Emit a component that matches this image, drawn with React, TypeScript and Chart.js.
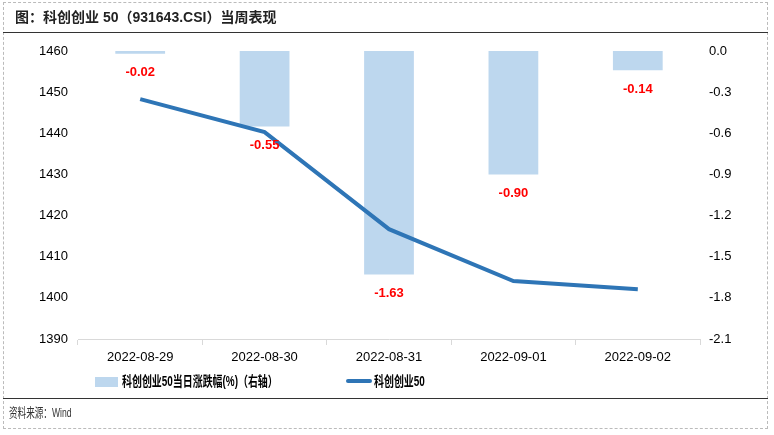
import React, { useEffect, useRef } from "react";
import { Chart, registerables } from "chart.js";

Chart.register(...registerables);

const categories = ["2022-08-29", "2022-08-30", "2022-08-31", "2022-09-01", "2022-09-02"];
const changePct = [-0.02, -0.55, -1.63, -0.9, -0.14];
const indexLevel = [1448.3, 1440.3, 1416.7, 1404.1, 1402.1];
const leftTicks = [1390, 1400, 1410, 1420, 1430, 1440, 1450, 1460];
const rightTicks = [-2.1, -1.8, -1.5, -1.2, -0.9, -0.6, -0.3, 0.0];

const FONT = '"Liberation Sans", Arial, "Noto Sans CJK SC", sans-serif';
const BAR_COLOR = "#BDD7EE";
const LINE_COLOR = "#2E75B6";

const barLabels = {
  id: "barLabels",
  afterDatasetsDraw(chart: any) {
    const meta = chart.getDatasetMeta(0);
    const ctx = chart.ctx;
    ctx.save();
    ctx.font = `bold 13px ${FONT}`;
    ctx.fillStyle = "#FF0000";
    ctx.textAlign = "center";
    ctx.textBaseline = "middle";
    meta.data.forEach((el: any, i: number) => {
      ctx.fillText(changePct[i].toFixed(2), el.x, el.y + 19);
    });
    ctx.restore();
  },
};

export default function App() {
  const ref = useRef<HTMLCanvasElement>(null);
  useEffect(() => {
    if (!ref.current) return;
    const chart = new Chart(ref.current, {
      type: "bar",
      data: {
        labels: categories,
        datasets: [
          {
            type: "bar",
            label: "科创创业50当日涨跌幅(%)（右轴）",
            data: changePct,
            backgroundColor: BAR_COLOR,
            yAxisID: "y1",
            barPercentage: 0.8,
            categoryPercentage: 0.5,
            order: 1,
          },
          {
            type: "line",
            label: "科创创业50",
            data: indexLevel,
            borderColor: LINE_COLOR,
            borderWidth: 4,
            pointRadius: 0,
            tension: 0,
            yAxisID: "y",
            order: 0,
          } as any,
        ],
      },
      options: {
        responsive: false,
        animation: false,
        layout: { padding: { top: 51, left: 0, right: 0, bottom: 0 } },
        plugins: { legend: { display: false }, tooltip: { enabled: false } },
        scales: {
          x: {
            offset: true,
            grid: { display: true, drawOnChartArea: false, offset: true, tickLength: 6, color: "#D9D9D9" },
            border: { display: true, color: "#D9D9D9" },
            ticks: { font: { family: FONT, size: 13 }, color: "#000", padding: 5, maxRotation: 0 },
            afterFit: (s: any) => { s.height = 96; },
          },
          y: {
            position: "left",
            min: 1390,
            max: 1460,
            grid: { display: false },
            border: { display: false },
            ticks: {
              font: { family: FONT, size: 13 },
              color: "#000",
              padding: 2,
              callback: (v: any) => String(v),
            },
            afterBuildTicks: (s: any) => { s.ticks = leftTicks.map((v) => ({ value: v })); },
            afterFit: (s: any) => { s.width = 78; },
          },
          y1: {
            position: "right",
            min: -2.1,
            max: 0,
            grid: { display: false },
            border: { display: false },
            ticks: {
              font: { family: FONT, size: 13 },
              color: "#000",
              padding: 1,
              callback: (v: any) => Number(v).toFixed(1),
            },
            afterBuildTicks: (s: any) => { s.ticks = rightTicks.map((v) => ({ value: v })); },
            afterFit: (s: any) => { s.width = 74; },
          },
        },
      },
      plugins: [barLabels],
    });
    return () => chart.destroy();
  }, []);

  const squeeze = { transform: "scaleX(0.71)", transformOrigin: "left center" } as const;
  const squeezeFoot = { transform: "scaleX(0.66)", transformOrigin: "left center" } as const;

  return (
    <div style={{ position: "absolute", left: 0, top: 0, width: 774, height: 435, background: "#fff", fontFamily: FONT }}>
      <canvas ref={ref} width={774} height={435} style={{ position: "absolute", left: 0, top: 0, width: 774, height: 435 }} />
      <div style={{ position: "absolute", left: 3, top: 2, width: 763, height: 425, border: "1px dashed #BBBBBB" }} />
      <div style={{ position: "absolute", left: 15, top: 8, fontSize: 14, fontWeight: "bold", color: "#222", whiteSpace: "nowrap", lineHeight: "18px" }}>
        图：科创创业 50（931643.CSI）当周表现
      </div>
      <div style={{ position: "absolute", left: 3, top: 32, width: 765, height: 0, borderTop: "1.5px solid #333" }} />
      <div style={{ position: "absolute", left: 95, top: 377, width: 23, height: 10, background: BAR_COLOR }} />
      <div style={{ position: "absolute", left: 122, top: 372, fontSize: 14, fontWeight: "bold", color: "#000", whiteSpace: "nowrap", lineHeight: "18px", ...squeeze }}>
        科创创业50当日涨跌幅(%)（右轴）
      </div>
      <div style={{ position: "absolute", left: 346, top: 379, width: 26, height: 4, background: LINE_COLOR, borderRadius: 2 }} />
      <div style={{ position: "absolute", left: 374, top: 372, fontSize: 14, fontWeight: "bold", color: "#000", whiteSpace: "nowrap", lineHeight: "18px", ...squeeze }}>
        科创创业50
      </div>
      <div style={{ position: "absolute", left: 3, top: 398, width: 765, height: 0, borderTop: "1.5px solid #333" }} />
      <div style={{ position: "absolute", left: 9, top: 404, fontSize: 13, color: "#333", whiteSpace: "nowrap", lineHeight: "17px", ...squeezeFoot }}>
        资料来源：Wind
      </div>
    </div>
  );
}
